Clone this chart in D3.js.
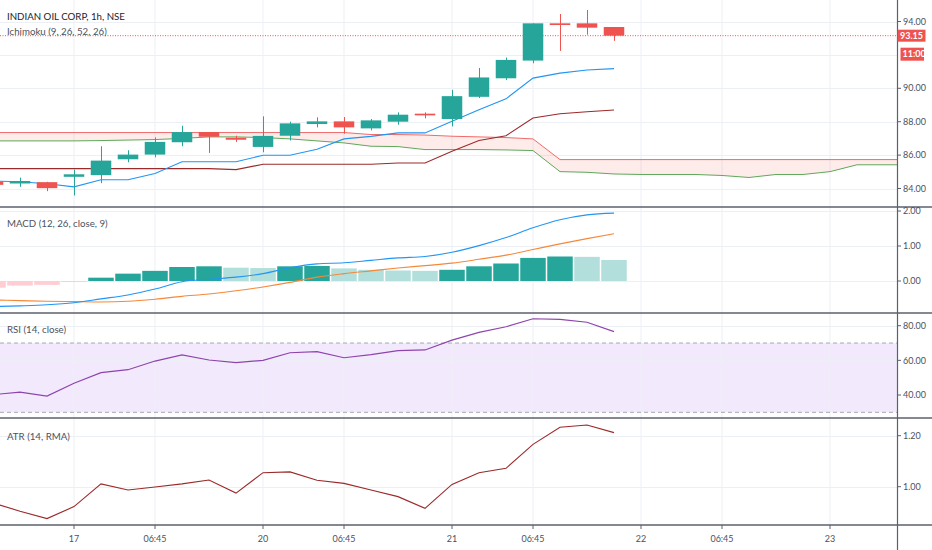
<!DOCTYPE html>
<html><head><meta charset="utf-8">
<script src="https://cdn.jsdelivr.net/npm/d3@7"></script>
<style>
html,body{margin:0;padding:0;background:#fff;overflow:hidden;}
svg{display:block;font-family:Lato,"Liberation Sans",Arial,sans-serif;}
</style></head><body>
<svg id="c" width="932" height="550"></svg>
<script>
// ---------- DATA ----------
const barIndex = d3.range(24);            // 24 hourly bars on screen
const cloudIndex = d3.range(35);          // cloud projected 26 bars forward
const open  = [84.42,84.30,84.38,84.70,84.80,85.75,86.03,86.77,87.38,87.04,86.49,87.16,87.86,88.02,87.60,88.00,88.48,88.16,89.49,90.60,91.66,93.89,93.89,93.67];
const high  = [84.50,84.65,84.40,85.13,86.53,86.29,87.06,87.76,87.38,87.16,88.32,88.00,88.26,88.28,88.16,88.56,88.56,89.91,91.22,91.84,93.89,94.45,94.69,93.67];
const low   = [84.10,84.10,83.84,83.58,84.32,85.57,85.87,86.53,86.13,86.79,86.17,86.88,87.66,87.28,87.48,87.82,88.20,87.72,89.42,90.49,91.50,92.24,93.21,92.84];
const close = [84.22,84.45,84.02,84.85,85.67,86.03,86.79,87.38,87.10,86.92,87.15,87.90,88.02,87.66,88.08,88.42,88.38,89.53,90.65,91.70,93.89,93.79,93.63,93.15];

const conversion = [84.45,84.40,84.28,84.10,84.52,84.52,84.90,85.60,85.60,85.60,85.99,85.99,86.35,86.97,87.12,87.33,87.33,88.02,88.72,89.37,90.61,90.91,91.10,91.18];
const baseLine   = [85.19,85.19,85.19,85.19,85.19,85.19,85.19,85.19,85.19,85.13,85.45,85.45,85.45,85.45,85.45,85.53,85.53,86.23,86.87,87.16,88.22,88.48,88.60,88.70];
const spanA = [86.85,86.85,86.85,86.85,86.87,86.90,86.93,87.00,87.09,87.09,87.05,86.97,86.85,86.73,86.53,86.51,86.33,86.33,86.33,86.31,86.27,85.01,84.97,84.87,84.84,84.84,84.84,84.78,84.66,84.84,84.84,85.01,85.42,85.42,85.42];
const spanB = [87.35,87.35,87.35,87.35,87.35,87.35,87.35,87.35,87.35,87.35,87.35,87.35,87.35,87.35,87.23,87.23,87.20,87.13,87.09,87.05,86.97,85.73,85.73,85.73,85.73,85.73,85.73,85.73,85.73,85.73,85.73,85.73,85.73,85.73,85.73];

const macdLine   = [-0.73,-0.71,-0.68,-0.62,-0.51,-0.40,-0.23,-0.02,0.05,0.11,0.21,0.38,0.49,0.52,0.59,0.66,0.70,0.82,1.01,1.24,1.52,1.75,1.89,1.94];
const signalLine = [-0.54,-0.56,-0.58,-0.59,-0.60,-0.58,-0.52,-0.44,-0.37,-0.28,-0.17,-0.04,0.11,0.21,0.29,0.37,0.44,0.51,0.62,0.74,0.90,1.06,1.21,1.35];
const histogram  = [-0.19,-0.13,-0.11,-0.03,0.095,0.21,0.29,0.40,0.42,0.38,0.37,0.42,0.43,0.36,0.32,0.30,0.29,0.32,0.42,0.50,0.66,0.70,0.69,0.60];

const rsi = [40.2,41.7,39.4,46.8,52.9,54.6,59.6,63.1,60.2,58.7,60.0,64.4,65.0,61.5,63.3,65.6,66.0,71.7,76.1,79.4,84.0,83.6,82.0,76.6];
const atr = [0.936,0.904,0.875,0.922,1.011,0.987,0.999,1.011,1.026,0.975,1.055,1.058,1.025,1.013,0.987,0.961,0.915,1.009,1.055,1.072,1.166,1.233,1.242,1.212];

const priceTicks = [84,86,88,90,92,94];
const macdTicks  = [0,1,2];
const rsiTicks   = [40,60,80];
const rsiBands   = [30,70];
const atrTicks   = [1.0,1.2];
const timeTickIdx    = [3,6,10,13,17,20,24,27,31];
const timeTickLabels = ["17","06:45","20","06:45","21","06:45","22","06:45","23"];
const lastPrice = 93.15;
const countdown = "11:00";
const titleMain = "INDIAN OIL CORP, 1h, NSE";
const titleIchi = "Ichimoku (9, 26, 52, 26)";
const titleMacd = "MACD (12, 26, close, 9)";
const titleRsi  = "RSI (14, close)";
const titleAtr  = "ATR (14, RMA)";

// ---------- LAYOUT ----------
const W = 932, H = 550, axisX = 897;
const P = {
  main:{top:0,bottom:207}, macd:{top:207,bottom:313},
  rsi:{top:313,bottom:418}, atr:{top:418,bottom:525}
};
const C = {
  up:"#26a69a", down:"#ef5350", grid:"#eceff4", sep:"#5d606b", text:"#4c525e",
  conv:"#2196f3", base:"#9c2a2a", spanA:"#5fa85a", spanB:"#f06a6a", cloud:"rgba(244,67,54,0.10)",
  macd:"#2196f3", signal:"#f5883a", hUp:"#26a69a", hUpL:"#b2dfdb", hDn:"#ff5252", hDnL:"#ffcdd2",
  rsi:"#8e44ad", rsiFill:"#f3e9fd", atr:"#9b2a2a"
};

const x = d3.scaleLinear().domain([0,34]).range([-7,911]);
const step = x(1)-x(0);
const yMain = d3.scaleLinear().domain([84,94]).range([188.5,21.5]);
const yMacd = d3.scaleLinear().domain([0,2]).range([281,211]);
const yRsi  = d3.scaleLinear().domain([40,80]).range([395,325.7]);
const yAtr  = d3.scaleLinear().domain([1.0,1.2]).range([486.7,435.7]);

const svg = d3.select("#c");
const defs = svg.append("defs");
Object.entries(P).forEach(([k,p])=>{
  defs.append("clipPath").attr("id","clip-"+k).append("rect")
    .attr("x",0).attr("y",p.top).attr("width",axisX).attr("height",p.bottom-p.top);
});

// ---------- RSI BAND (under grid) ----------
const gr0 = svg.append("g").attr("clip-path","url(#clip-rsi)");
gr0.append("rect").attr("x",0).attr("width",axisX)
  .attr("y",yRsi(rsiBands[1])).attr("height",yRsi(rsiBands[0])-yRsi(rsiBands[1]))
  .attr("fill",C.rsiFill);

// ---------- GRID ----------
const grid = svg.append("g");
grid.selectAll("line.v").data(timeTickIdx).join("line")
  .attr("x1",d=>x(d)).attr("x2",d=>x(d)).attr("y1",0).attr("y2",P.atr.bottom)
  .attr("stroke",C.grid).attr("stroke-width",1);
function hGrid(ticks,y){
  grid.selectAll(null).data(ticks).join("line")
    .attr("x1",0).attr("x2",axisX).attr("y1",d=>Math.round(y(d))+0.5).attr("y2",d=>Math.round(y(d))+0.5)
    .attr("stroke",C.grid).attr("stroke-width",1);
}
hGrid(priceTicks,yMain); hGrid(macdTicks,yMacd); hGrid(rsiTicks,yRsi); hGrid(atrTicks,yAtr);

// ---------- MAIN PANEL ----------
const gm = svg.append("g").attr("clip-path","url(#clip-main)");
gm.append("path").datum(cloudIndex)
  .attr("d",d3.area().x(i=>x(i)).y0(i=>yMain(spanA[i])).y1(i=>yMain(spanB[i])))
  .attr("fill",C.cloud);
const line = (arr,y)=>d3.line().x(i=>x(i)).y(i=>y(arr[i]));
gm.append("path").datum(cloudIndex).attr("d",line(spanB,yMain)).attr("fill","none").attr("stroke",C.spanB).attr("stroke-width",1);
gm.append("path").datum(cloudIndex).attr("d",line(spanA,yMain)).attr("fill","none").attr("stroke",C.spanA).attr("stroke-width",1);
gm.append("path").datum(barIndex).attr("d",line(baseLine,yMain)).attr("fill","none").attr("stroke",C.base).attr("stroke-width",1.1);
gm.append("path").datum(barIndex).attr("d",line(conversion,yMain)).attr("fill","none").attr("stroke",C.conv).attr("stroke-width",1.1);

// last price dotted line
gm.append("line").attr("x1",0).attr("x2",axisX).attr("y1",yMain(lastPrice)).attr("y2",yMain(lastPrice))
  .attr("stroke",C.down).attr("stroke-width",1).attr("stroke-dasharray","1,1.5");

// candles
const bodyW = step*0.76;
const cg = gm.selectAll("g.candle").data(barIndex).join("g");
cg.append("line")
  .attr("x1",i=>Math.round(x(i))+0.5).attr("x2",i=>Math.round(x(i))+0.5)
  .attr("y1",i=>yMain(high[i])).attr("y2",i=>yMain(low[i]))
  .attr("stroke",i=>close[i]>=open[i]?C.up:C.down).attr("stroke-width",1);
cg.append("rect")
  .attr("x",i=>x(i)-bodyW/2).attr("width",bodyW)
  .attr("y",i=>yMain(Math.max(open[i],close[i])))
  .attr("height",i=>Math.max(1.5,Math.abs(yMain(open[i])-yMain(close[i]))))
  .attr("fill",i=>close[i]>=open[i]?C.up:C.down);

// ---------- MACD PANEL ----------
const gd = svg.append("g").attr("clip-path","url(#clip-macd)");
const histColor = i=>{
  const h = histogram[i], prev = i>0?histogram[i-1]:h;
  return h>=0 ? (h>=prev?C.hUp:C.hUpL) : (h>=prev?C.hDnL:C.hDn);
};
const barW = step-1.5;
gd.selectAll("rect").data(barIndex).join("rect")
  .attr("x",i=>x(i)-barW/2).attr("width",barW)
  .attr("y",i=>Math.min(yMacd(0),yMacd(histogram[i])))
  .attr("height",i=>Math.max(1,Math.abs(yMacd(histogram[i])-yMacd(0))))
  .attr("fill",histColor);
gd.append("path").datum(barIndex).attr("d",d3.line().curve(d3.curveMonotoneX).x(i=>x(i)).y(i=>yMacd(signalLine[i])))
  .attr("fill","none").attr("stroke",C.signal).attr("stroke-width",1.1);
gd.append("path").datum(barIndex).attr("d",d3.line().curve(d3.curveMonotoneX).x(i=>x(i)).y(i=>yMacd(macdLine[i])))
  .attr("fill","none").attr("stroke",C.macd).attr("stroke-width",1.1);

// ---------- RSI PANEL ----------
const gr = svg.append("g").attr("clip-path","url(#clip-rsi)");
gr.selectAll("line.band").data(rsiBands).join("line")
  .attr("x1",0).attr("x2",axisX).attr("y1",d=>yRsi(d)).attr("y2",d=>yRsi(d))
  .attr("stroke","#a6a9b2").attr("stroke-width",1).attr("stroke-dasharray","4,3");
gr.append("path").datum(barIndex).attr("d",line(rsi,yRsi))
  .attr("fill","none").attr("stroke",C.rsi).attr("stroke-width",1.2);

// ---------- ATR PANEL ----------
const ga = svg.append("g").attr("clip-path","url(#clip-atr)");
ga.append("path").datum(barIndex).attr("d",line(atr,yAtr))
  .attr("fill","none").attr("stroke",C.atr).attr("stroke-width",1.1);

// ---------- SEPARATORS / AXES ----------
const sep = svg.append("g");
[P.main.bottom,P.macd.bottom,P.rsi.bottom,P.atr.bottom].forEach(y=>{
  sep.append("line").attr("x1",0).attr("x2",W).attr("y1",y).attr("y2",y)
    .attr("stroke",C.sep).attr("stroke-width",1.4);
});
sep.append("line").attr("x1",axisX+0.5).attr("x2",axisX+0.5).attr("y1",0).attr("y2",H)
  .attr("stroke",C.sep).attr("stroke-width",1.2);

function yAxis(ticks,y,fmt,skip){
  const g = svg.append("g");
  const t = ticks.filter(d=>!(skip&&skip(d)));
  g.selectAll("line").data(t).join("line")
    .attr("x1",axisX).attr("x2",axisX+4).attr("y1",d=>y(d)).attr("y2",d=>y(d))
    .attr("stroke",C.sep).attr("stroke-width",1);
  g.selectAll("text").data(t).join("text")
    .attr("x",axisX+6).attr("y",d=>y(d)).attr("dy","0.35em")
    .attr("font-size",9).attr("fill",C.text).text(fmt);
}
const f2 = d3.format(".2f");
yAxis(priceTicks,yMain,f2,d=>Math.abs(yMain(d)-yMain(lastPrice))<22 && d!==94);
yAxis(macdTicks,yMacd,f2);
yAxis(rsiTicks,yRsi,f2);
yAxis(atrTicks,yAtr,f2);

// time axis
const tx = svg.append("g");
tx.selectAll("line").data(timeTickIdx).join("line")
  .attr("x1",d=>x(d)).attr("x2",d=>x(d)).attr("y1",P.atr.bottom).attr("y2",P.atr.bottom+4)
  .attr("stroke",C.sep).attr("stroke-width",1);
tx.selectAll("text").data(timeTickIdx).join("text")
  .attr("x",d=>x(d)).attr("y",542).attr("text-anchor","middle")
  .attr("font-size",9).attr("fill",C.text).text((d,i)=>timeTickLabels[i]);

// last price & countdown labels
const lp = svg.append("g");
const yLP = yMain(lastPrice);
lp.append("rect").attr("x",axisX+0.5).attr("y",yLP-6).attr("width",28).attr("height",12).attr("fill",C.down);
lp.append("text").attr("x",axisX+3).attr("y",yLP).attr("dy","0.36em").attr("font-size",9)
  .attr("font-weight",700).attr("fill","#fff").text(f2(lastPrice));
lp.append("rect").attr("x",axisX+3.5).attr("y",yLP+12).attr("width",23.5).attr("height",13).attr("fill",C.down);
lp.append("text").attr("x",axisX+5.5).attr("y",yLP+18.5).attr("dy","0.36em").attr("font-size",9)
  .attr("font-weight",700).attr("fill","#fff").text(countdown);

// ---------- TITLES ----------
const tt = svg.append("g");
tt.append("text").attr("x",7).attr("y",20).attr("font-size",9.7).attr("fill","#1e222d").text(titleMain);
tt.append("text").attr("x",7).attr("y",34.7).attr("font-size",9.7).attr("fill","#4c525e").text(titleIchi);
tt.append("text").attr("x",7).attr("y",227.3).attr("font-size",9.7).attr("fill","#4c525e").text(titleMacd);
tt.append("text").attr("x",7).attr("y",332.7).attr("font-size",9.7).attr("fill","#4c525e").text(titleRsi);
tt.append("text").attr("x",7).attr("y",440).attr("font-size",9.7).attr("fill","#4c525e").text(titleAtr);
</script>
</body></html>
